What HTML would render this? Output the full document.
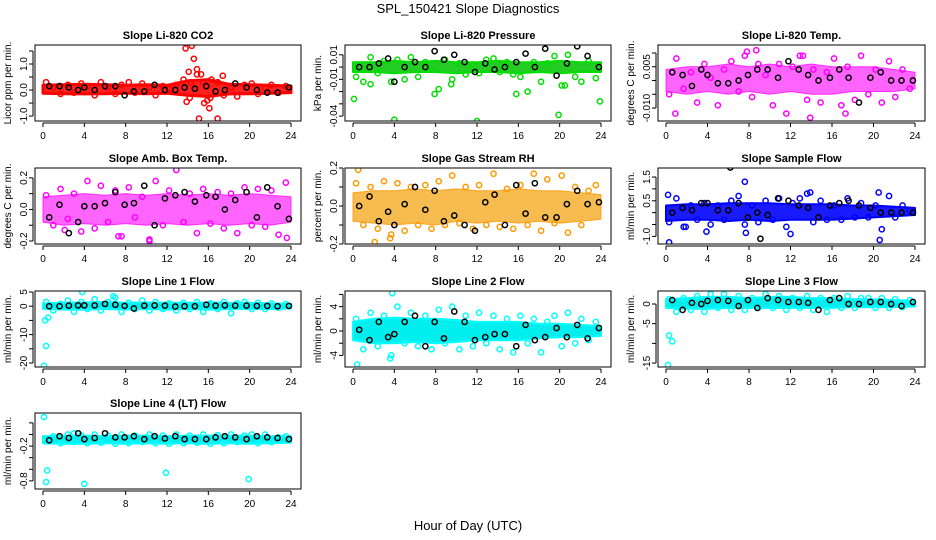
<!DOCTYPE html>
<html><head><meta charset="utf-8"><style>
html,body{margin:0;padding:0;background:#fff;}
svg{display:block;font-family:"Liberation Sans",Arial,sans-serif;}
</style></head><body>
<svg id="chart" width="936" height="540" viewBox="0 0 936 540" xmlns="http://www.w3.org/2000/svg">
<text x="468" y="13" text-anchor="middle" font-size="13">SPL_150421  Slope Diagnostics</text>
<text x="468" y="530" text-anchor="middle" font-size="13">Hour of Day (UTC)</text>
</svg>
<script>
// shared x positions (hours)
const blackX=[0.6,1.6,2.5,3.4,4.0,5.0,6.0,7.0,7.9,8.8,9.8,10.8,11.8,12.8,13.7,14.7,15.8,16.7,17.6,18.6,19.7,20.7,21.7,22.7,23.8];
const scatX=[0.3,1.0,1.7,2.4,3.0,3.7,4.3,5.0,5.6,6.3,7.0,7.6,8.3,8.9,9.6,10.3,10.9,11.6,12.2,12.9,13.6,14.2,14.9,15.5,16.2,16.9,17.5,18.2,18.8,19.5,20.2,20.8,21.5,22.1,22.8,23.5];
const bandX=[0,2,4,6,8,10,12,14,16,18,20,22,24];
const xTicks=[0,4,8,12,16,20,24];

// panel 1 CO2
const co2Lo=[-0.12,-0.14,-0.15,-0.14,-0.12,-0.14,-0.12,-0.2,-0.25,-0.15,-0.14,-0.12,-0.1];
const co2Hi=[0.18,0.2,0.22,0.2,0.18,0.2,0.18,0.35,0.4,0.22,0.2,0.18,0.15];
const co2Scat=[0.3,0.1,-0.15,0.2,-0.1,0.25,0.15,-0.2,0.3,0.1,-0.15,0.2,0.3,-0.1,0.25,0.1,-0.2,0.15,0.05,0.2,0.4,-0.3,0.6,0.3,-0.3,0.3,-0.2,0.1,-0.25,0.2,0.25,-0.15,0.1,0.2,-0.1,0.15];
const co2OutX=[13.8,14.1,14.4,14.6,14.9,15.1,15.3,15.6,15.9,16.1,16.3,16.9,17.4,13.9,14.3];
const co2OutY=[1.6,0.7,1.7,1.2,0.8,-1.1,0.6,-0.5,-0.4,-0.7,0.4,-1.1,0.55,-0.45,0.3];
const co2Black=[0.15,0.15,0.1,0.0,0.1,0.0,0.15,0.15,-0.2,-0.05,-0.05,0.2,0.0,0.0,0.1,0.05,0.15,-0.05,0.0,0.25,0.1,0.0,-0.1,-0.1,0.1];
// panel 2 pressure
const prLo=[-0.004,-0.004,-0.005,-0.004,-0.004,-0.005,-0.004,-0.004,-0.005,-0.004,-0.005,-0.004,-0.004];
const prHi=[0.004,0.004,0.005,0.004,0.005,0.004,0.004,0.005,0.004,0.004,0.005,0.004,0.004];
const prScat=[-0.008,-0.012,0.008,-0.005,0.005,-0.012,0.006,-0.01,0.008,-0.008,0.004,-0.002,-0.018,0.006,-0.01,0.003,-0.006,0.002,-0.005,0.006,0.007,-0.004,0.004,-0.006,-0.008,-0.02,0.004,-0.012,0.003,0.009,-0.015,0.01,-0.008,-0.012,0.005,-0.009];
const prOutX=[0.1,4.0,12.0,19.9,23.9,7.9,15.8,1.7,9.5,20.5];
const prOutY=[-0.026,-0.043,-0.044,-0.039,-0.028,-0.022,-0.022,-0.014,-0.014,-0.015];
const prBlack=[0.0,0.0,0.003,0.007,-0.012,0.0,0.004,0.0,0.013,0.006,0.01,0.004,-0.004,0.003,-0.002,0.0,0.004,0.011,0.0,0.015,-0.007,0.003,0.017,0.009,0.0];
// panel 3 temp
const tLo=[-0.004,-0.005,-0.004,-0.005,-0.004,-0.005,-0.004,-0.005,-0.005,-0.004,-0.004,-0.004,-0.003];
const tHi=[0.004,0.005,0.005,0.006,0.005,0.006,0.005,0.006,0.005,0.005,0.005,0.004,0.003];
const tScat=[-0.005,0.008,-0.003,0.003,-0.008,0.006,0.001,-0.009,0.004,0.007,-0.004,0.009,-0.006,0.006,0.002,-0.009,0.006,-0.012,0.005,0.009,-0.007,0.004,-0.008,0.003,0.008,-0.009,0.005,-0.007,0.009,-0.005,0.004,-0.008,0.007,-0.006,0.004,-0.003];
const tOutX=[0.9,7.8,8.7,13.9,17.3,13.2];
const tOutY=[-0.012,0.0105,0.011,-0.0135,-0.012,0.009];
const tBlack=[0.003,0.002,-0.002,0.004,0.002,-0.001,-0.001,0.0,0.002,0.004,0.004,0.001,0.007,0.004,0.002,0.0,0.001,0.004,0.001,-0.008,0.001,0.003,0.0,0.0,0.0];
// panel 4 amb box temp
const aLo=[-0.08,-0.1,-0.09,-0.1,-0.09,-0.1,-0.09,-0.1,-0.09,-0.1,-0.09,-0.1,-0.08];
const aHi=[0.08,0.09,0.1,0.09,0.1,0.09,0.1,0.09,0.1,0.09,0.1,0.09,0.08];
const aScat=[0.09,-0.1,0.13,-0.06,0.1,-0.14,0.18,-0.12,0.15,-0.08,0.12,-0.17,0.14,-0.05,0.08,-0.19,0.18,-0.1,0.12,0.25,-0.08,0.1,-0.15,0.13,-0.09,0.11,-0.12,0.1,-0.15,0.14,-0.1,0.13,-0.11,0.12,-0.16,0.17];
const aOutX=[2.1,7.3,10.3,23.6];
const aOutY=[-0.13,-0.17,-0.2,-0.18];
const aBlack=[-0.05,0.03,-0.15,-0.08,0.02,0.02,0.04,0.11,0.03,0.04,0.15,-0.1,0.07,0.09,0.11,0.05,0.09,0.08,0.0,0.06,0.11,-0.05,0.14,0.02,-0.06];
// panel 5 RH
const rhLo=[-0.08,-0.09,-0.1,-0.09,-0.1,-0.08,-0.09,-0.08,-0.09,-0.08,-0.09,-0.08,-0.07];
const rhHi=[0.07,0.08,0.08,0.09,0.08,0.09,0.08,0.08,0.09,0.08,0.08,0.07,0.06];
const rhScat=[0.12,-0.1,0.1,-0.12,0.13,-0.15,0.12,-0.13,0.1,-0.1,0.11,-0.12,0.13,-0.1,0.16,-0.09,0.1,-0.12,0.11,-0.1,0.17,-0.11,0.09,-0.12,0.11,-0.1,0.17,-0.13,0.14,-0.09,0.16,-0.14,0.1,-0.1,0.08,0.11];
const rhOutX=[0.5,2.1,3.6];
const rhOutY=[0.19,-0.19,-0.17];
const rhBlack=[0.0,0.05,-0.08,-0.03,-0.1,0.01,0.1,-0.02,0.08,-0.08,-0.05,-0.1,-0.13,0.02,0.06,-0.1,0.11,-0.04,0.12,-0.06,-0.06,0.01,0.08,0.01,0.02];
// panel 6 sample flow
const sfLo=[-0.35,-0.3,-0.3,-0.35,-0.3,-0.35,-0.3,-0.3,-0.3,-0.25,-0.2,-0.15,-0.1];
const sfHi=[0.3,0.35,0.35,0.4,0.4,0.4,0.35,0.35,0.35,0.3,0.3,0.25,0.2];
const sfScat=[-0.4,0.6,-0.6,0.3,-0.3,0.4,-0.5,0.3,-0.3,0.5,0.7,-0.5,0.3,-0.4,0.5,-0.3,0.6,-0.6,0.4,0.6,0.8,-0.4,0.5,-0.3,0.3,-0.3,0.6,-0.2,0.4,-0.2,0.3,-0.7,0.7,-0.2,0.3,0.1];
const sfOutX=[0.2,0.3,7.6,3.9,12.0,20.5,20.6,7.7,13.9,1.9];
const sfOutY=[0.75,-1.25,1.3,-0.8,-0.9,0.85,-1.15,-0.85,0.85,-0.6];
const sfBlack=[0.0,0.2,0.1,0.4,0.4,0.1,0.1,0.4,-0.2,0.0,-0.1,0.6,0.5,0.3,0.2,-0.2,0.3,0.4,0.5,0.3,0.2,0.0,0.0,0.0,0.0];
const sfBlackOutX=[6.2,9.1];
const sfBlackOutY=[1.9,-1.1];
// panel 7 line 1
const l1Lo=[-1,-1.2,-1.2,-1,-1.2,-1,-1.2,-1,-1.2,-1,-1,-1,-0.8];
const l1Hi=[1,1.2,1.3,1.5,1.2,1.3,1.2,1.2,1.3,1.2,1.2,1,0.8];
const l1Scat=[1.5,-1.5,0.8,2,-2,1.5,-1,2.5,-1.5,1.5,3,-2,1.2,-1,2,-1.5,1.5,-1,1,-1.5,1.2,-1,1.5,-2,1,-1,1.5,-2.5,1,1.5,-1,1.2,-1,1,-0.5,0.8];
const l1OutX=[0.1,0.3,0.2,0.5,3.8,6.8];
const l1OutY=[-21,-14,-5,-4,5,3.5];
const l1Black=[0,0,0.2,0.3,0.3,0.3,0.8,0.5,0.1,-0.8,0.2,0.3,0.2,-0.1,0,0,0.5,0.2,0.3,0.2,0.2,0.1,0.1,0,0.1];
// panel 8 line 2
const l2Lo=[-1.5,-2,-2,-1.8,-2,-1.8,-1.5,-1.5,-1.5,-1.2,-1,-1,-0.8];
const l2Hi=[1.5,2,2.2,2,2,1.8,1.5,1.5,1.5,1.2,1.2,1,0.8];
const l2Scat=[2,-3,3,-2.5,2.5,-4,4,-2,3,-2.5,2.5,-3,3.5,-2,4,-3,2.5,-2.5,3,-2,2.5,-3,2,-3.5,2.5,-2,2,-3.5,1.5,2.5,-2.5,3,-2,2,-1.5,1.5];
const l2OutX=[3.8,0.4,3.6];
const l2OutY=[6.2,-5.5,-4.5];
const l2Black=[0.2,-1.5,1.5,-1,-0.5,1.5,2.5,-2.5,1.5,-1.2,3.2,1.5,-1.5,-1,-0.5,-0.5,-2.5,1,-1.5,-1,0.5,-1,1,-1.2,0.5];
// panel 9 line 3
const l3Lo=[-1,-1.2,-1.2,-1,-1,-1,-1,-1,-1,-0.8,-0.8,-0.8,-0.6];
const l3Hi=[1.2,1.5,1.8,1.8,1.5,1.8,1.8,1.5,1.5,1.2,1.2,1,0.8];
const l3Scat=[1.2,-2,1.5,-1.5,2,-2,2.5,-1,2.5,-1.5,2,-1.5,1.5,-1,2.5,-1,2,-1.5,1.5,-1,2,-1.5,1.5,-2,1.5,-1,2,-1,1.5,1.5,-1,1.5,-1,1.2,-0.8,1];
const l3OutX=[0.2,0.3,0.6];
const l3OutY=[-15.5,-8,-9.5];
const l3Black=[1,-1.5,0.3,0,0.8,1,0.8,-0.5,1,-1,1.5,1,0.5,0.5,0.3,-1.5,1,1.5,0,0,0.5,0.5,0,-0.5,0.5];
// panel 10 line 4
const l4Lo=[-0.15,-0.16,-0.16,-0.15,-0.16,-0.15,-0.16,-0.15,-0.16,-0.15,-0.16,-0.15,-0.14];
const l4Hi=[-0.03,-0.02,-0.02,-0.03,-0.02,-0.02,-0.03,-0.02,-0.02,-0.02,-0.02,-0.03,-0.03];
const l4Scat=[-0.12,-0.03,-0.15,0.0,-0.13,-0.02,-0.15,0.0,-0.14,-0.02,-0.16,0.0,-0.15,-0.02,-0.13,0.0,-0.15,-0.02,-0.16,0.0,-0.15,-0.02,-0.14,0.0,-0.16,-0.01,-0.15,0.0,-0.13,-0.02,0.0,-0.15,0.0,-0.13,-0.05,-0.03];
const l4OutX=[0.1,0.4,0.3,4.0,11.9,19.9,3.0];
const l4OutY=[0.3,-0.62,-0.82,-0.85,-0.66,-0.77,0.02];
const l4Black=[-0.1,-0.03,-0.06,0.02,-0.08,-0.06,0.02,-0.05,-0.05,-0.03,-0.08,-0.03,-0.07,-0.03,-0.08,-0.08,-0.08,-0.05,-0.03,-0.05,-0.08,-0.03,-0.05,-0.06,-0.08];

const panels=[
 {name:'co2',title:'Slope Li-820 CO2',ylab:'Licor ppm per min.',col:0,row:0,dom:[-1.19,1.73],ticks:[-1,-0.5,0,0.5,1,1.5],labs:['-1.0','','0.0','','1.0',''],color:'#ff0000',band:'#ff2020',op:1,sw:3,lo:co2Lo,hi:co2Hi,scat:co2Scat,ox:co2OutX,oy:co2OutY,blk:co2Black},
 {name:'pressure',title:'Slope Li-820 Pressure',ylab:'kPa per min.',col:1,row:0,dom:[-0.044,0.018],ticks:[-0.04,-0.03,-0.02,-0.01,0,0.01],labs:['-0.04','','','-0.01','','0.01'],color:'#00dd00',band:'#22cc22',op:1,sw:2,lo:prLo,hi:prHi,scat:prScat,ox:prOutX,oy:prOutY,blk:prBlack},
 {name:'temp',title:'Slope Li-820 Temp.',ylab:'degrees C per min.',col:2,row:0,dom:[-0.0147,0.0129],ticks:[-0.01,-0.005,0,0.005,0.01],labs:['-0.010','','','0.005',''],color:'#ff00ff',band:'#ff30ff',op:0.75,sw:1,lo:tLo,hi:tHi,scat:tScat,ox:tOutX,oy:tOutY,blk:tBlack},
 {name:'amb-box-temp',title:'Slope Amb. Box Temp.',ylab:'degrees C per min.',col:0,row:1,dom:[-0.219,0.2625],ticks:[-0.2,-0.1,0,0.1,0.2],labs:['-0.2','','0.0','','0.2'],color:'#ff00ff',band:'#ff30ff',op:0.75,sw:1,lo:aLo,hi:aHi,scat:aScat,ox:aOutX,oy:aOutY,blk:aBlack},
 {name:'gas-stream-rh',title:'Slope Gas Stream RH',ylab:'percent per min.',col:1,row:1,dom:[-0.2,0.2],ticks:[-0.2,-0.1,0,0.1,0.2],labs:['-0.2','','0.0','','0.2'],color:'#ff9900',band:'#f5b030',op:0.85,sw:1,lo:rhLo,hi:rhHi,scat:rhScat,ox:rhOutX,oy:rhOutY,blk:rhBlack},
 {name:'sample-flow',title:'Slope Sample Flow',ylab:'ml/min per min.',col:2,row:1,dom:[-1.32,1.88],ticks:[-1,-0.5,0,0.5,1,1.5],labs:['-1.0','','','0.5','','1.5'],color:'#0000ff',band:'#1a1aff',op:1,sw:2,lo:sfLo,hi:sfHi,scat:sfScat,ox:sfOutX,oy:sfOutY,blk:sfBlack,bx:sfBlackOutX,by:sfBlackOutY},
 {name:'line1-flow',title:'Slope Line 1 Flow',ylab:'ml/min per min.',col:0,row:2,dom:[-21.4,5.35],ticks:[-20,-15,-10,-5,0,5],labs:['-20','','-10','','0','5'],color:'#00ffff',band:'#00eeee',op:1,sw:2,lo:l1Lo,hi:l1Hi,scat:l1Scat,ox:l1OutX,oy:l1OutY,blk:l1Black},
 {name:'line2-flow',title:'Slope Line 2 Flow',ylab:'ml/min per min.',col:1,row:2,dom:[-5.9,6.56],ticks:[-4,-2,0,2,4,6],labs:['-4','','0','','4',''],color:'#00ffff',band:'#00eeee',op:1,sw:2,lo:l2Lo,hi:l2Hi,scat:l2Scat,ox:l2OutX,oy:l2OutY,blk:l2Black},
 {name:'line3-flow',title:'Slope Line 3 Flow',ylab:'ml/min per min.',col:2,row:2,dom:[-16.0,3.3],ticks:[-15,-10,-5,0],labs:['-15','','-5','0'],color:'#00ffff',band:'#00eeee',op:1,sw:2,lo:l3Lo,hi:l3Hi,scat:l3Scat,ox:l3OutX,oy:l3OutY,blk:l3Black},
 {name:'line4-flow',title:'Slope Line 4 (LT) Flow',ylab:'ml/min per min.',col:0,row:3,dom:[-0.94,0.37],ticks:[-0.8,-0.6,-0.4,-0.2,0,0.2],labs:['-0.8','','','-0.2','',''],color:'#00ffff',band:'#00eeee',op:1,sw:2,lo:l4Lo,hi:l4Hi,scat:l4Scat,ox:l4OutX,oy:l4OutY,blk:l4Black}
];
const colBox=[[35,301],[345,611],[658,925]];
const rowBox=[[45,121],[168,244],[291,367],[413,489]];
const NS='http://www.w3.org/2000/svg';
const svg=document.getElementById('chart');
function mk(tag,attrs,parent){const e=document.createElementNS(NS,tag);for(const k in attrs)e.setAttribute(k,attrs[k]);parent.appendChild(e);return e;}

panels.forEach(p=>{
 const [L,R]=colBox[p.col];const [T,B]=rowBox[p.row];
 const x0=L+8,x1=R-10;
 const xs=h=>x0+(h/24)*(x1-x0);
 const ys=v=>B-(v-p.dom[0])/(p.dom[1]-p.dom[0])*(B-T);
 const g=mk('g',{},svg);
 
 
 const t=mk('text',{x:(L+R)/2,y:T-6,'text-anchor':'middle','font-size':'11','font-weight':'bold'},g);
 t.textContent=p.title;
 
 
 const yl=mk('text',{x:0,y:0,'text-anchor':'middle','font-size':'10',transform:`translate(${L-24},${(T+B)/2}) rotate(-90)`},g);
 yl.textContent=p.ylab;
 
 
 const cid='clip-'+p.name;
 const cp=mk('clipPath',{id:cid},g);mk('rect',{x:L,y:T,width:R-L,height:B-T},cp);
 const plot=mk('g',{'clip-path':`url(#${cid})`},g);
 
 
 let d='';
 bandX.forEach((h,i)=>{d+=(i?'L':'M')+xs(h).toFixed(1)+','+ys(p.hi[i]).toFixed(1);});
 for(let i=bandX.length-1;i>=0;i--)d+='L'+xs(bandX[i]).toFixed(1)+','+ys(p.lo[i]).toFixed(1);
 const band=mk('path',{d:d+'Z',fill:p.band,'fill-opacity':p.op,stroke:p.color,'stroke-opacity':p.op,'stroke-width':p.sw,'stroke-linejoin':'round'},plot);
 
 
 scatX.forEach((h,i)=>{
  const c=mk('circle',{cx:xs(h),cy:ys(p.scat[i]),r:2.6,fill:'none',stroke:p.color,'stroke-width':'1.5'},plot);
  
  
 });
 p.ox.forEach((h,i)=>{
  const c=mk('circle',{cx:xs(h),cy:ys(p.oy[i]),r:2.6,fill:'none',stroke:p.color,'stroke-width':'1.5'},plot);
  
  
 });
 blackX.forEach((h,i)=>{
  const c=mk('circle',{cx:xs(h),cy:ys(p.blk[i]),r:2.6,fill:'none',stroke:'#000','stroke-width':'1.5'},plot);
  
  
 });
 if(p.bx)p.bx.forEach((h,i)=>{
  const c=mk('circle',{cx:xs(h),cy:ys(p.by[i]),r:2.6,fill:'none',stroke:'#000','stroke-width':'1.5'},plot);
  
  
 });
 const box=mk('rect',{x:L,y:T,width:R-L,height:B-T,fill:'none',stroke:'#000','stroke-width':'1'},g);
 
 
 const ax=mk('g',{},g);
 
 
 mk('line',{x1:xs(0),x2:xs(24),y1:B+2,y2:B+2,stroke:'#000'},ax);
 xTicks.forEach(h=>{
  mk('line',{x1:xs(h),x2:xs(h),y1:B+2,y2:B+6,stroke:'#000'},ax);
  const tl=mk('text',{x:xs(h),y:B+18,'text-anchor':'middle','font-size':'10'},ax);
  tl.textContent=String(h);
  
  
 });
 const ay=mk('g',{},g);
 
 
 const tv=p.ticks;
 mk('line',{x1:L-2,x2:L-2,y1:ys(tv[0]),y2:ys(tv[tv.length-1]),stroke:'#000'},ay);
 tv.forEach((v,i)=>{
  mk('line',{x1:L-6,x2:L-2,y1:ys(v),y2:ys(v),stroke:'#000'},ay);
  if(p.labs[i]){
   const tl=mk('text',{x:0,y:0,'text-anchor':'middle','font-size':'10',transform:`translate(${L-8},${ys(v)}) rotate(-90)`},ay);
   tl.textContent=p.labs[i];
   
   
  }
 });
});
</script>
</body></html>
